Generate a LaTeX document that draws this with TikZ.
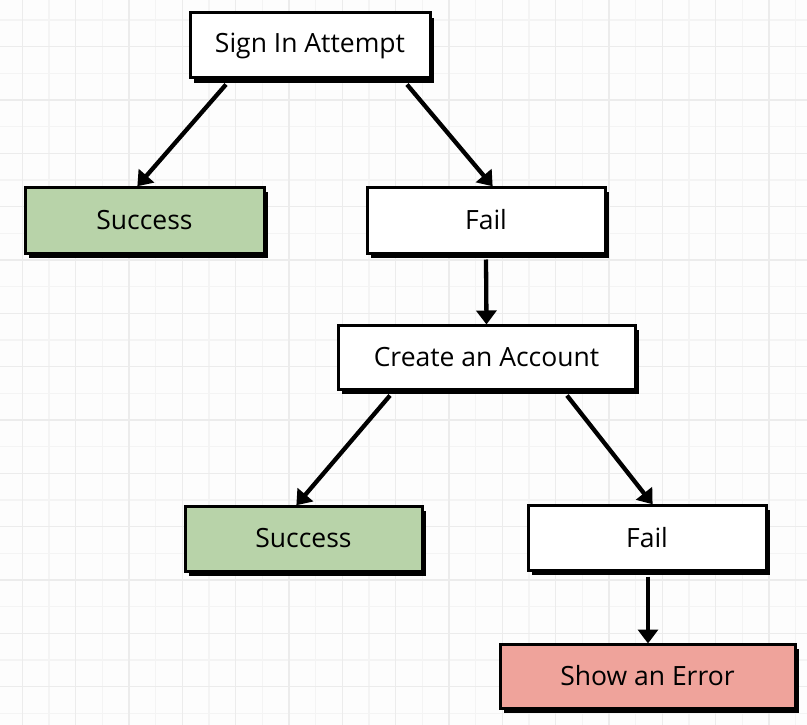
\documentclass[tikz,border=0pt]{standalone}
\usepackage{fontspec}
\setmainfont{Open Sans}
\usetikzlibrary{arrows.meta,shadows}
\definecolor{gridminor}{HTML}{F4F4F4}
\definecolor{gridmajor}{HTML}{ECECEC}
\definecolor{okgreen}{HTML}{B8D3A9}
\definecolor{errred}{HTML}{EFA39B}
\definecolor{bgwhite}{HTML}{FDFDFD}
\begin{document}
\begin{tikzpicture}[x=1pt,y=-1pt,
  box/.style={draw=black, line width=3pt, fill=white, inner sep=0pt,
    font=\fontsize{26.5}{30}\selectfont,
    drop shadow={shadow xshift=4pt, shadow yshift=-5pt, fill=black, opacity=1}},
  flow/.style={line width=4.3pt, -{Triangle[length=14pt,width=20pt]}, shorten >=-1pt}
]
\useasboundingbox (0,0) rectangle (807,725);
\fill[bgwhite] (0,0) rectangle (807,725);
% grid
\foreach \i in {0,...,30} {
  \draw[gridminor, line width=1.4pt] ({22.33+(\i-1)*26.667},0) -- ++(0,725);
}
\foreach \i in {0,...,28} {
  \draw[gridminor, line width=1.4pt] (0,{20+(\i-1)*26.667}) -- ++(807,0);
}
\foreach \i in {0,...,15} {
  \draw[gridmajor, line width=1.4pt] ({22.33+\i*53.333},0) -- ++(0,725);
}
\foreach \i in {0,...,14} {
  \draw[gridmajor, line width=1.4pt] (0,{46.67+(\i-1)*53.333}) -- ++(807,0);
}
% boxes
\node[box, minimum width=240pt, minimum height=65pt] (sign) at (310,45.5) {Sign In Attempt};
\node[box, fill=okgreen, minimum width=239pt, minimum height=66pt] (succ1) at (144.5,220) {Success};
\node[box, minimum width=238pt, minimum height=66pt] (fail1) at (486,220) {Fail};
\node[box, minimum width=297pt, minimum height=64pt] (create) at (486.5,357) {Create an Account};
\node[box, fill=okgreen, minimum width=237pt, minimum height=65pt] (succ2) at (303.5,538.5) {Success};
\node[box, minimum width=238pt, minimum height=65pt] (fail2) at (647,537.5) {Fail};
\node[box, fill=errred, minimum width=295pt, minimum height=64pt] (error) at (647.5,676) {Show an Error};
% connectors
\draw[flow] ([xshift=-84pt,yshift=-5pt]sign.south) -- ([xshift=-6.5pt]succ1.north);
\draw[flow] ([xshift=97pt,yshift=-5pt]sign.south) -- ([xshift=6pt]fail1.north);
\draw[flow] ([yshift=-5pt]fail1.south) -- (create.north);
\draw[flow] ([xshift=-96.5pt,yshift=-5pt]create.south) -- ([xshift=-6.5pt]succ2.north);
\draw[flow] ([xshift=80.5pt,yshift=-5pt]create.south) -- ([xshift=5pt]fail2.north);
\draw[flow] ([xshift=1pt,yshift=-5pt]fail2.south) -- ([xshift=0.5pt]error.north);
\end{tikzpicture}
\end{document}
